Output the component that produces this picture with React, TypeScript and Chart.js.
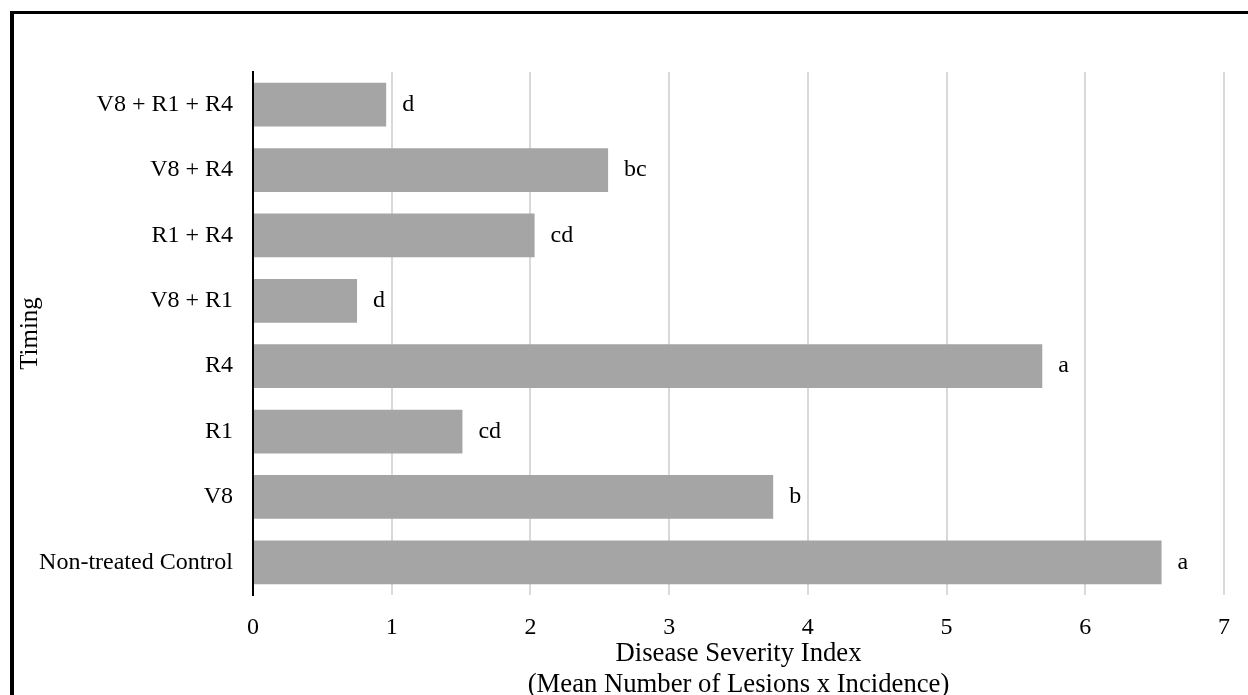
import React, { useEffect, useRef } from "react";
import { Chart, registerables } from "chart.js";

Chart.register(...registerables);

const categories = [
  "V8 + R1 + R4",
  "V8 + R4",
  "R1 + R4",
  "V8 + R1",
  "R4",
  "R1",
  "V8",
  "Non-treated Control",
];
const severity = [0.96, 2.56, 2.03, 0.75, 5.69, 1.51, 3.75, 6.55];
const letters = ["d", "bc", "cd", "d", "a", "cd", "b", "a"];
const xTicks = [0, 1, 2, 3, 4, 5, 6, 7];

const FONT = "'Liberation Serif', 'Times New Roman', serif";

const letterPlugin = {
  id: "letters",
  afterDatasetsDraw(chart: any) {
    const ctx = chart.ctx;
    const meta = chart.getDatasetMeta(0);
    ctx.save();
    ctx.font = `24px ${FONT}`;
    ctx.fillStyle = "#000000";
    ctx.textAlign = "left";
    ctx.textBaseline = "middle";
    meta.data.forEach((bar: any, i: number) => {
      ctx.fillText(letters[i], bar.x + 16, bar.y);
    });
    ctx.restore();
  },
};

export default function App() {
  const ref = useRef<HTMLCanvasElement | null>(null);
  useEffect(() => {
    if (!ref.current) return;
    const chart = new Chart(ref.current, {
      type: "bar",
      data: {
        labels: categories,
        datasets: [
          {
            data: severity,
            backgroundColor: "#A5A5A5",
            barPercentage: 0.67,
            categoryPercentage: 1,
          },
        ],
      },
      options: {
        indexAxis: "y",
        responsive: false,
        animation: false,
        layout: { padding: { left: 0, right: 13, top: 72, bottom: 0 } },
        plugins: { legend: { display: false }, tooltip: { enabled: false } },
        scales: {
          x: {
            min: 0,
            max: 7,
            afterBuildTicks: (scale: any) => {
              scale.ticks = xTicks.map((v) => ({ value: v }));
            },
            grid: { color: "#D9D9D9", lineWidth: 2, drawTicks: false },
            border: { display: false },
            ticks: {
              padding: 18,
              color: "#000000",
              font: { family: FONT, size: 24 },
            },
            title: {
              display: true,
              text: ["Disease Severity Index", "(Mean Number of Lesions x Incidence)"],
              color: "#000000",
              font: { family: FONT, size: 26.7, lineHeight: 31 / 26.7 },
              padding: { top: 0, bottom: -5.5 },
            },
            afterFit: (scale: any) => {
              scale.height = 100;
            },
          },
          y: {
            grid: { display: false, drawTicks: false },
            border: { display: true, color: "#000000", width: 2 },
            ticks: {
              padding: 20,
              color: "#000000",
              font: { family: FONT, size: 24 },
            },
            title: {
              display: true,
              text: "Timing",
              color: "#000000",
              font: { family: FONT, size: 25, lineHeight: 1.2 },
              padding: { top: 15, bottom: 0 },
            },
            afterFit: (scale: any) => {
              scale.width = 253;
            },
          },
        },
      },
      plugins: [letterPlugin],
    });
    return () => chart.destroy();
  }, []);

  return (
    <div
      style={{
        position: "fixed",
        left: 0,
        top: 0,
        width: 1248,
        height: 695,
        background: "#ffffff",
        overflow: "hidden",
      }}
    >
      <div
        style={{
          position: "absolute",
          left: 10,
          top: 11,
          width: 1400,
          height: 900,
          borderLeft: "4px solid #000000",
          borderTop: "3px solid #000000",
          boxSizing: "border-box",
        }}
      />
      <canvas
        ref={ref}
        width={1248}
        height={695}
        style={{ position: "absolute", left: 0, top: 0, display: "block" }}
      />
    </div>
  );
}
